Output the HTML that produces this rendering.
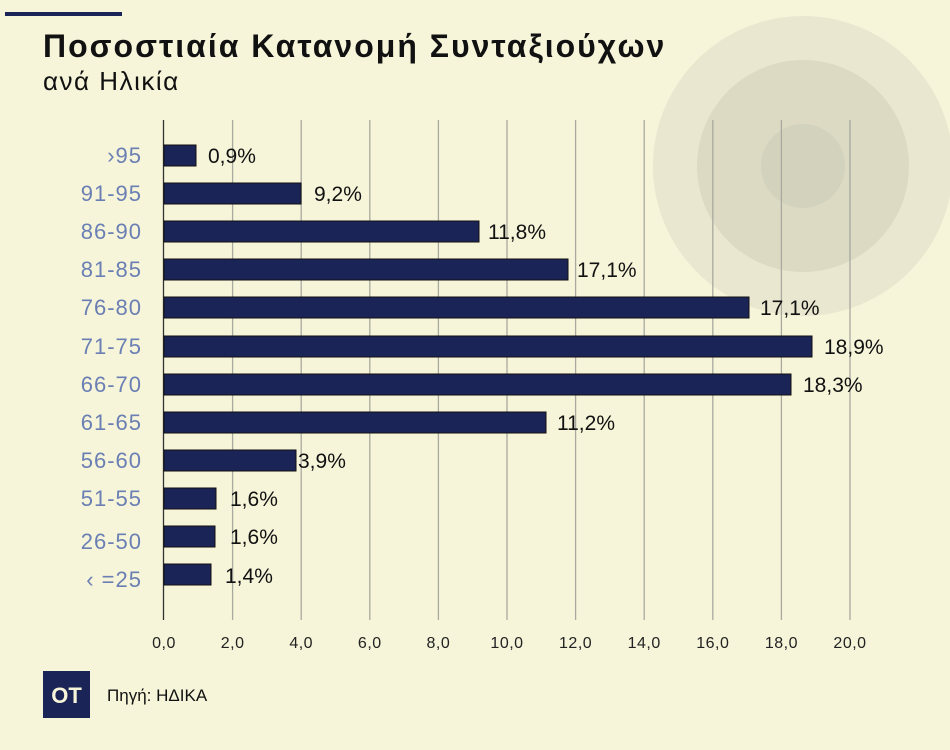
<!DOCTYPE html>
<html><head><meta charset="utf-8"><style>
body{margin:0;background:#f6f4d9;}
svg{display:block;font-family:"Liberation Sans","DejaVu Sans",sans-serif;}
</style></head><body>
<svg width="950" height="750" viewBox="0 0 950 750">
<rect width="950" height="750" fill="#f6f4d9"/>
<circle cx="803" cy="166" r="150" fill="#e9e7cf"/>
<circle cx="803" cy="166" r="106" fill="#dcdac3"/>
<circle cx="803" cy="166" r="42" fill="#d3d2bc"/>
<rect x="5" y="12" width="117" height="4" fill="#1b2456"/>
<text x="43" y="57" font-size="32" font-weight="bold" fill="#111" letter-spacing="2">Ποσοστιαία Κατανομή Συνταξιούχων</text>
<text x="43" y="90" font-size="26" fill="#111" letter-spacing="1.5">ανά Ηλικία</text>
<g stroke="#a9a9a0" stroke-width="1.3">
<line x1="232.6" y1="120" x2="232.6" y2="620"/><line x1="301.2" y1="120" x2="301.2" y2="620"/>
<line x1="369.8" y1="120" x2="369.8" y2="620"/><line x1="438.4" y1="120" x2="438.4" y2="620"/>
<line x1="507" y1="120" x2="507" y2="620"/><line x1="575.6" y1="120" x2="575.6" y2="620"/>
<line x1="644.2" y1="120" x2="644.2" y2="620"/><line x1="712.8" y1="120" x2="712.8" y2="620"/>
<line x1="781.4" y1="120" x2="781.4" y2="620"/><line x1="850" y1="120" x2="850" y2="620"/>
</g>
<line x1="163.5" y1="120" x2="163.5" y2="620" stroke="#333" stroke-width="1.3"/>
<g fill="#1b2456" stroke="#111" stroke-width="1">
<rect x="164" y="145" width="32" height="21"/>
<rect x="164" y="183" width="137" height="21"/>
<rect x="164" y="221" width="315" height="21"/>
<rect x="164" y="259" width="404" height="21"/>
<rect x="164" y="297" width="585" height="21"/>
<rect x="164" y="336" width="648" height="21"/>
<rect x="164" y="374" width="627" height="21"/>
<rect x="164" y="412" width="382" height="21"/>
<rect x="164" y="450" width="132" height="21"/>
<rect x="164" y="488" width="52" height="21"/>
<rect x="164" y="526" width="51" height="21"/>
<rect x="164" y="564" width="47" height="21"/>
</g>
<g font-size="21" fill="#111">
<text x="208" y="163">0,9%</text>
<text x="314" y="201">9,2%</text>
<text x="488" y="239">11,8%</text>
<text x="577" y="277">17,1%</text>
<text x="760" y="315">17,1%</text>
<text x="824" y="354">18,9%</text>
<text x="803" y="392">18,3%</text>
<text x="557" y="430">11,2%</text>
<text x="298" y="468">3,9%</text>
<text x="230" y="506">1,6%</text>
<text x="230" y="544">1,6%</text>
<text x="225" y="583">1,4%</text>
</g>
<g font-size="22" fill="#6a7fb3" text-anchor="end" letter-spacing="1">
<text x="142" y="163">›95</text>
<text x="142" y="201">91-95</text>
<text x="142" y="239">86-90</text>
<text x="142" y="277">81-85</text>
<text x="142" y="315">76-80</text>
<text x="142" y="354">71-75</text>
<text x="142" y="392">66-70</text>
<text x="142" y="430">61-65</text>
<text x="142" y="468">56-60</text>
<text x="142" y="506">51-55</text>
<text x="142" y="549">26-50</text>
<text x="142" y="587">‹ =25</text>
</g>
<g font-size="16" fill="#222" text-anchor="middle" letter-spacing="0.5">
<text x="164" y="648">0,0</text><text x="232.6" y="648">2,0</text><text x="301.2" y="648">4,0</text>
<text x="369.8" y="648">6,0</text><text x="438.4" y="648">8,0</text><text x="507" y="648">10,0</text>
<text x="575.6" y="648">12,0</text><text x="644.2" y="648">14,0</text><text x="712.8" y="648">16,0</text>
<text x="781.4" y="648">18,0</text><text x="850" y="648">20,0</text>
</g>
<rect x="43" y="671" width="47" height="47" fill="#1b2456"/>
<text x="66.5" y="703" font-size="22" font-weight="bold" fill="#f6f4d9" text-anchor="middle">OT</text>
<text x="107" y="701" font-size="17" fill="#111">Πηγή: ΗΔΙΚΑ</text>
</svg>
</body></html>
